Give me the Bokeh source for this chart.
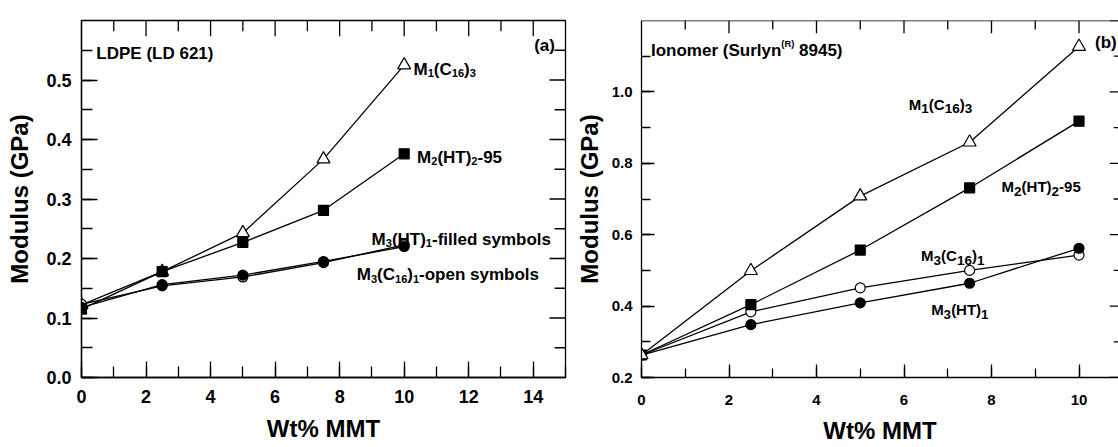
from bokeh.plotting import figure
from bokeh.layouts import row
from bokeh.models import Label, SingleIntervalTicker, PrintfTickFormatter, Range1d, Span
from bokeh.embed import file_html
from bokeh.resources import INLINE

# ---- data: modulus (GPa) vs clay loading (wt% MMT) ----
wt_mmt = [0, 2.5, 5, 7.5, 10]

# (a) LDPE (LD 621)
ldpe_m1_c16_3 = [0.122, 0.178, 0.243, 0.367, 0.525]
ldpe_m2_ht2_95 = [0.115, 0.178, 0.227, 0.281, 0.376]
ldpe_m3_ht1 = [0.118, 0.156, 0.172, 0.195, 0.220]
ldpe_m3_c16_1 = [0.123, 0.154, 0.169, 0.193, 0.223]

# (b) Ionomer (Surlyn 8945)
iono_m1_c16_3 = [0.263, 0.499, 0.708, 0.859, 1.127]
iono_m2_ht2_95 = [0.263, 0.404, 0.557, 0.731, 0.918]
iono_m3_c16_1 = [0.263, 0.384, 0.451, 0.500, 0.543]
iono_m3_ht1 = [0.263, 0.348, 0.409, 0.464, 0.562]

# tick positions used for the mirrored (top / right) frame ticks
ldpe_x_major = [2, 4, 6, 8, 10, 12, 14]
ldpe_x_minor = [1, 3, 5, 7, 9, 11, 13]
ldpe_y_major = [0.1, 0.2, 0.3, 0.4, 0.5]
ldpe_y_minor = [0.05, 0.15, 0.25, 0.35, 0.45, 0.55]
iono_x_major = [2, 4, 6, 8, 10]
iono_x_minor = [1, 3, 5, 7, 9]
iono_y_major = [0.2, 0.4, 0.6, 0.8, 1.0, 1.2]
iono_y_minor = [0.3, 0.5, 0.7, 0.9, 1.1]

FONT = "Liberation Sans"

# Arial/Liberation Sans Bold advance widths (1/1000 em), used to chain
# sub- and superscript pieces of a label
_W = {' ': 278, '(': 333, ')': 333, '-': 333, '.': 278, '%': 889}
_W.update({d: 556 for d in "0123456789"})
_W.update(dict(zip("ABCDEFGHIJKLMNOPQRSTUVWXYZ",
                   [722, 722, 722, 722, 667, 611, 778, 722, 278, 556, 722, 611, 833,
                    722, 778, 667, 778, 722, 667, 611, 722, 667, 944, 667, 667, 611])))
_W.update(dict(zip("abcdefghijklmnopqrstuvwxyz",
                   [556, 611, 556, 611, 556, 333, 611, 611, 278, 278, 556, 278, 889,
                    611, 611, 611, 611, 389, 556, 333, 611, 556, 778, 556, 556, 500])))


def text_width(s, size):
    return sum(_W.get(c, 556) for c in s) * size / 1000.0


def rich_label(p, x, y, parts, size, sub_scale, sub_shift, sup_scale=0.55, sup_shift=7):
    dx = 0.0
    for txt, kind in parts:
        if kind == "sub":
            fs, dy = size * sub_scale, -sub_shift
        elif kind == "sup":
            fs, dy = size * sup_scale, sup_shift
        else:
            fs, dy = size, 0
        stripped = txt.lstrip(" ")
        dx += text_width(txt[:len(txt) - len(stripped)], fs)
        p.add_layout(Label(x=x, y=y, x_offset=dx, y_offset=dy, text=stripped,
                           text_font=FONT, text_font_style="bold",
                           text_font_size=f"{fs:.1f}px", text_color="black",
                           text_baseline="alphabetic", text_align="left"))
        dx += text_width(stripped, fs)


def style_axis(ax, major_in, minor_in, label_size, standoff, title_standoff):
    ax.major_tick_in = major_in
    ax.major_tick_out = 0
    ax.minor_tick_in = minor_in
    ax.minor_tick_out = 0
    for attr in ("axis_line", "major_tick_line", "minor_tick_line"):
        setattr(ax, attr + "_color", "black")
        setattr(ax, attr + "_width", 1.3)
    ax.major_label_text_font = FONT
    ax.major_label_text_font_style = "bold"
    ax.major_label_text_font_size = label_size
    ax.major_label_text_color = "black"
    ax.major_label_standoff = standoff
    ax.axis_label_text_font = FONT
    ax.axis_label_text_font_style = "bold"
    ax.axis_label_text_font_size = "24px"
    ax.axis_label_text_color = "black"
    ax.axis_label_standoff = title_standoff


def mirror_ticks(p, x_major, x_minor, y_major, y_minor, x_end, y_end,
                 px_x, px_y, major_len, minor_len):
    """Inward ticks along the top and right edges of the frame."""
    kw = dict(line_color="black", line_width=1.3)
    for xs, ln in ((x_major, major_len), (x_minor, minor_len)):
        p.segment(x0=xs, y0=[y_end] * len(xs), x1=xs, y1=[y_end - ln / px_y] * len(xs), **kw)
    for ys, ln in ((y_major, major_len), (y_minor, minor_len)):
        p.segment(x0=[x_end - ln / px_x] * len(ys), y0=ys, x1=[x_end] * len(ys), y1=ys, **kw)


def draw_series(p, x, y, marker, filled, size):
    p.line(x, y, line_color="black", line_width=1.3)
    p.scatter(x, y, marker=marker, size=size, line_color="black", line_width=1.2,
              fill_color="black" if filled else "white")


# ---------------- (a) LDPE ----------------
p1 = figure(width=570, height=447, x_range=Range1d(0, 15), y_range=Range1d(0, 0.6),
            output_backend="svg", toolbar_location=None,
            min_border_left=81, min_border_right=5, min_border_top=15, min_border_bottom=70)
p1.grid.visible = False
p1.outline_line_color = "black"
p1.outline_line_width = 1.3
p1.outline_line_alpha = 1.0

p1.xaxis.ticker = SingleIntervalTicker(interval=2, num_minor_ticks=2)
p1.yaxis.ticker = SingleIntervalTicker(interval=0.1, num_minor_ticks=2)
p1.yaxis.formatter = PrintfTickFormatter(format="%.1f")
p1.xaxis.axis_label = "Wt% MMT"
p1.yaxis.axis_label = "Modulus (GPa)"
style_axis(p1.xaxis[0], 16, 11, "18px", 12, 9)
style_axis(p1.yaxis[0], 16, 11, "18px", 10, 10)

mirror_ticks(p1, ldpe_x_major, ldpe_x_minor, ldpe_y_major, ldpe_y_minor,
             15, 0.6, 484 / 15, 362 / 0.6, 16, 11)

draw_series(p1, wt_mmt, ldpe_m1_c16_3, "triangle", False, 13)
draw_series(p1, wt_mmt, ldpe_m3_c16_1, "circle", False, 10)
draw_series(p1, wt_mmt, ldpe_m3_ht1, "circle", True, 10)
draw_series(p1, wt_mmt, ldpe_m2_ht2_95, "square", True, 10)

rich_label(p1, 0.46, 0.544, [("LDPE (LD 621)", "n")], 17, 0.65, 4)
rich_label(p1, 14.03, 0.558, [("(a)", "n")], 17, 0.65, 4)
rich_label(p1, 10.29, 0.518, [("M", "n"), ("1", "sub"), ("(C", "n"), ("16", "sub"),
                              (")", "n"), ("3", "sub")], 17, 0.65, 4)
rich_label(p1, 10.40, 0.370, [("M", "n"), ("2", "sub"), ("(HT)", "n"), ("2", "sub"),
                              ("-95", "n")], 17, 0.65, 4)
rich_label(p1, 8.99, 0.232, [("M", "n"), ("3", "sub"), ("(HT)", "n"), ("1", "sub"),
                             ("-filled symbols", "n")], 17, 0.65, 4)
rich_label(p1, 8.53, 0.173, [("M", "n"), ("3", "sub"), ("(C", "n"), ("16", "sub"),
                             (")", "n"), ("1", "sub"), ("-open symbols", "n")], 17, 0.65, 4)

# ---------------- (b) Ionomer ----------------
# the frame runs to x = 11; only the part up to the page edge is shown
PX_X2 = 43.75
X2_END = 477 / PX_X2
p2 = figure(width=548, height=447, x_range=Range1d(0, X2_END), y_range=Range1d(0.2, 1.2),
            output_backend="svg", toolbar_location=None,
            min_border_left=71, min_border_right=0, min_border_top=20, min_border_bottom=65)
p2.grid.visible = False
p2.outline_line_color = None

p2.xaxis.ticker = SingleIntervalTicker(interval=2, num_minor_ticks=2)
p2.yaxis.ticker = SingleIntervalTicker(interval=0.2, num_minor_ticks=2)
p2.yaxis.formatter = PrintfTickFormatter(format="%.1f")
p2.xaxis.axis_label = "Wt% MMT"
p2.yaxis.axis_label = "Modulus (GPa)"
style_axis(p2.xaxis[0], 13, 9, "15px", 17, 9)
style_axis(p2.yaxis[0], 13, 9, "15px", 9, 6)
p2.add_layout(Span(location=1.2, dimension="width", line_color="black", line_width=1.3))

mirror_ticks(p2, iono_x_major, iono_x_minor, iono_y_major, iono_y_minor,
             11, 1.2, PX_X2, 362 / 1.0, 13, 9)

draw_series(p2, wt_mmt, iono_m3_c16_1, "circle", False, 10)
draw_series(p2, wt_mmt, iono_m3_ht1, "circle", True, 10)
draw_series(p2, wt_mmt, iono_m2_ht2_95, "square", True, 10)
draw_series(p2, wt_mmt, iono_m1_c16_3, "triangle", False, 13)

rich_label(p2, 0.217, 1.115, [("Ionomer (Surlyn", "n"), ("(R)", "sup"), (" 8945)", "n")],
           17, 0.65, 4, sup_scale=0.55, sup_shift=7)
rich_label(p2, 10.366, 1.137, [("(b)", "n")], 17, 0.65, 4)
rich_label(p2, 6.11, 0.965, [("M", "n"), ("1", "sub"), ("(C", "n"), ("16", "sub"),
                             (")", "n"), ("3", "sub")], 15, 0.9, 4.5)
rich_label(p2, 8.23, 0.734, [("M", "n"), ("2", "sub"), ("(HT)", "n"), ("2", "sub"),
                             ("-95", "n")], 15, 0.9, 4.5)
rich_label(p2, 6.39, 0.541, [("M", "n"), ("3", "sub"), ("(C", "n"), ("16", "sub"),
                             (")", "n"), ("1", "sub")], 15, 0.9, 4.5)
rich_label(p2, 6.62, 0.390, [("M", "n"), ("3", "sub"), ("(HT)", "n"), ("1", "sub")],
           15, 0.9, 4.5)

layout = row(p1, p2)
open("out.html", "w").write(file_html(layout, INLINE))
